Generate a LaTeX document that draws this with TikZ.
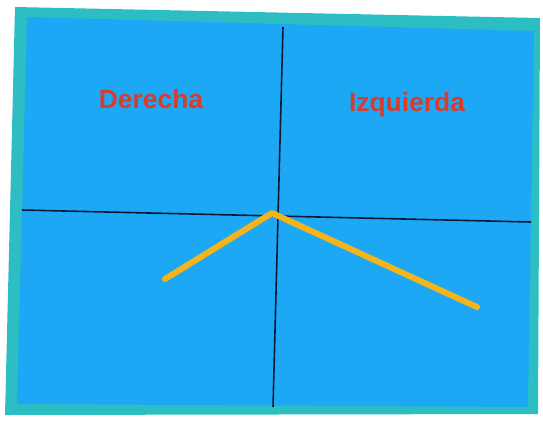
\documentclass[tikz,border=0pt]{standalone}
\usepackage{fontspec}
\setmainfont{Liberation Sans}
\usepackage{xcolor}
\usepackage{tikz}
\usetikzlibrary{positioning}
\definecolor{myteal}{RGB}{45,190,195}
\definecolor{myblue}{RGB}{28,168,245}
\definecolor{myred}{RGB}{215,60,45}
\definecolor{myyellow}{RGB}{245,180,25}
\definecolor{mynavy}{RGB}{15,25,55}

\begin{document}
\begin{tikzpicture}[x=1bp,y=-1bp,
        axis/.style={draw=mynavy, line width=1.6bp},
        lbl/.style={text=myred, font=\bfseries\fontsize{26.5}{28}\selectfont, inner sep=0pt},
        arm/.style={draw=myyellow, line width=6bp, line cap=round, line join=round}
      ]
        \useasboundingbox (0,0) rectangle (543,423);
        % frame
        \fill[myteal] (15,7) -- (540,18) -- (538,414) -- (5,415) -- cycle;
        \fill[myblue] (27,17) -- (534,31) -- (528,407) -- (17,404) -- cycle;
        % axes
        \coordinate (vtop) at (283,27);
        \coordinate (vbot) at (273,407);
        \coordinate (hleft) at (22,210);
        \coordinate (hright) at (531,222);
        \draw[axis] (vtop) -- (vbot);
        \draw[axis] (hleft) -- (hright);
        % labels
        \node[lbl] (der) at (151,99) {Derecha};
        \node[lbl] (izq) at (407,105) {Izquierda};
        % yellow arms
        \coordinate (apex) at (272,213);
        \coordinate (lend) at (165,279);
        \coordinate (rend) at (477,307);
        \draw[arm] (lend) -- (apex) -- (rend);
      \end{tikzpicture}
\end{document}
